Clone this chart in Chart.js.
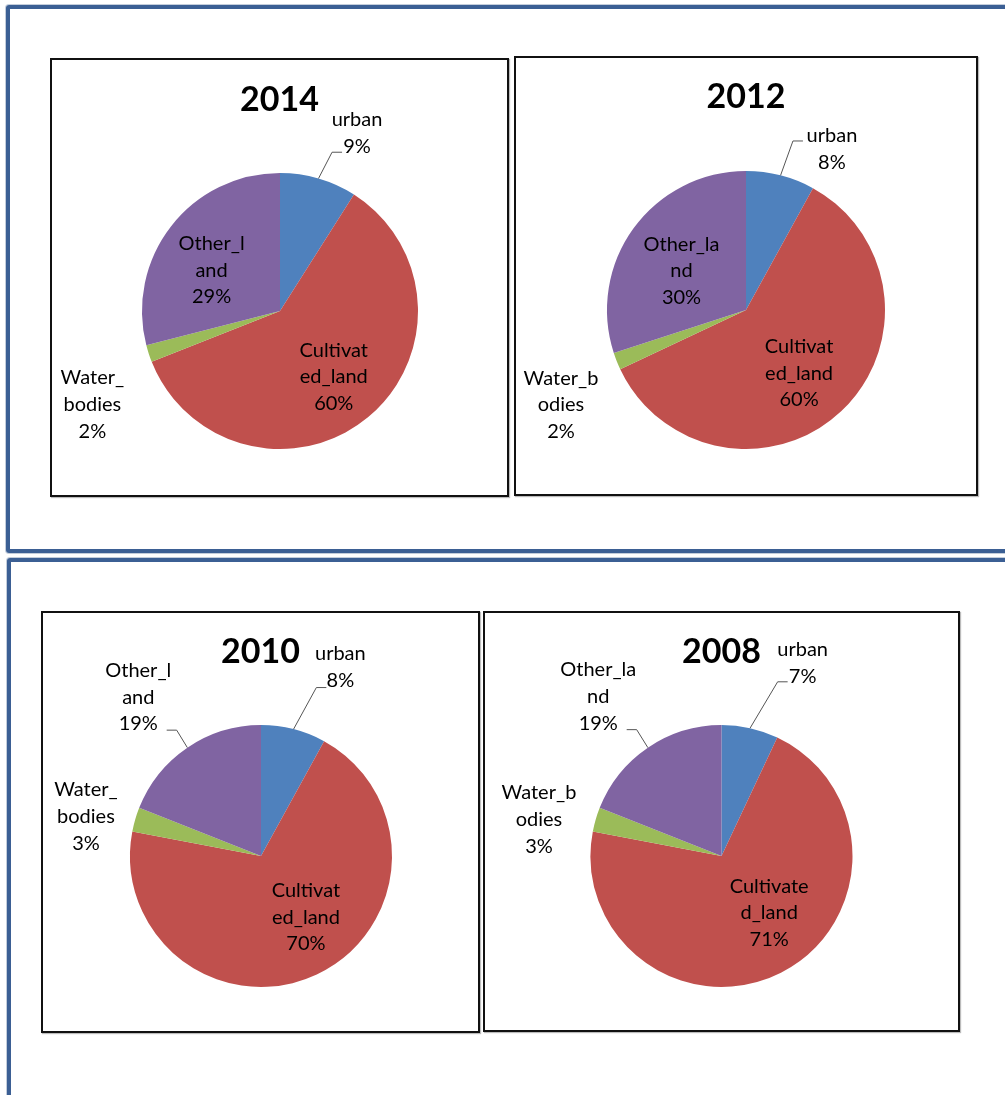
<!DOCTYPE html>
<html>
<head>
<meta charset="utf-8">
<script src="https://cdn.jsdelivr.net/npm/chart.js@4.4.1/dist/chart.umd.min.js"></script>
<style>
  body { margin: 0; width: 1005px; height: 1095px; overflow: hidden; background: #fff; position: relative; }
  .frame { position: absolute; box-sizing: border-box; border: 4px solid #3b5f94; border-radius: 3px;
           box-shadow: 0 0 0 1px #c3cddb; }
  .box { position: absolute; box-sizing: border-box; border: 2px solid #111; background: #fff;
         box-shadow: 1px 1px 1px #bbb; }
  .box canvas { display: block; }
</style>
</head>
<body>
<div class="frame" style="left:6px; top:5px; width:1100px; height:548px;"></div>
<div class="frame" style="left:7px; top:558px; width:1100px; height:600px;"></div>

<div class="box" id="b2014" style="left:50px; top:58px; width:459px; height:439px;"><canvas id="c2014"></canvas></div>
<div class="box" id="b2012" style="left:514px; top:56px; width:464px; height:440px;"><canvas id="c2012"></canvas></div>
<div class="box" id="b2010" style="left:41px; top:611px; width:439px; height:422px;"><canvas id="c2010"></canvas></div>
<div class="box" id="b2008" style="left:483px; top:611px; width:477px; height:421px;"><canvas id="c2008"></canvas></div>

<script>
// land use classes, clockwise from 12 o'clock
const categories = ["urban", "Cultivated_land", "Water_bodies", "Other_land"];
const colors = ["#4F81BD", "#C0504D", "#9BBB59", "#8064A2"];

const values2014 = [9, 60, 2, 29];
const values2012 = [8, 60, 2, 30];
const values2010 = [8, 70, 3, 19];
const values2008 = [7, 71, 3, 19];

// category names wrapped the way the original labels are
const lines2014 = [["urban"], ["Cultivat", "ed_land"], ["Water_", "bodies"], ["Other_l", "and"]];
const lines2012 = [["urban"], ["Cultivat", "ed_land"], ["Water_b", "odies"], ["Other_la", "nd"]];
const lines2010 = [["urban"], ["Cultivat", "ed_land"], ["Water_", "bodies"], ["Other_l", "and"]];
const lines2008 = [["urban"], ["Cultivate", "d_land"], ["Water_b", "odies"], ["Other_la", "nd"]];

const LABEL_FONT = "20px Lato, 'Open Sans', sans-serif";
const TITLE_FONT = "bold 34px Lato, 'Open Sans', sans-serif";
const LINE_H = 26.7;

// label placement: inside labels sit at 0.6r, outside at 1.3r along the slice middle, then nudged
const charts = [
  { id: "2014", values: values2014, lines: lines2014, w: 455, h: 435, cx: 228, cy: 251, r: 138, titleY: 40,
    place: [
      { out: true, dx: 27, dy: -6, leader: [-15, 19.5] },
      { out: false, dx: 1, dy: 2 },
      { out: true, dx: -17, dy: 38 },
      { out: false, dx: -3, dy: 10 },
    ] },
  { id: "2012", values: values2012, lines: lines2012, w: 460, h: 436, cx: 230, cy: 252, r: 139, titleY: 39,
    place: [
      { out: true, dx: 41, dy: 14, leader: [-29, -8] },
      { out: false, dx: -4, dy: 2.5 },
      { out: true, dx: -17, dy: 28.5 },
      { out: false, dx: 3, dy: 10 },
    ] },
  { id: "2010", values: values2010, lines: lines2010, w: 435, h: 418, cx: 218, cy: 243, r: 131, titleY: 39.5,
    place: [
      { out: true, dx: 37, dy: -24, leader: [-14, 20.5] },
      { out: false, dx: 11.5, dy: -10 },
      { out: true, dx: -11.5, dy: 8 },
      { out: true, dx: -27, dy: -18, leader: [28.4, 33] },
    ] },
  { id: "2008", values: values2008, lines: lines2008, w: 473, h: 417, cx: 236.5, cy: 243, r: 131, titleY: 39,
    place: [
      { out: true, dx: 44, dy: -27, leader: [-15, 19] },
      { out: false, dx: 12, dy: -13 },
      { out: true, dx: -19, dy: 11 },
      { out: true, dx: -27.5, dy: -18.5, leader: [28.4, 33] },
    ] },
];

const pieLabels = {
  id: "pieLabels",
  afterDatasetsDraw(chart, args, opts) {
    const ctx = chart.ctx;
    const meta = chart.getDatasetMeta(0);
    const vals = chart.data.datasets[0].data;
    const total = vals.reduce((a, b) => a + b, 0);
    ctx.save();

    // title
    ctx.font = TITLE_FONT;
    ctx.fillStyle = "#000";
    ctx.textAlign = "center";
    ctx.textBaseline = "middle";
    ctx.fillText(opts.title, chart.width / 2, opts.titleY);

    ctx.font = LABEL_FONT;
    meta.data.forEach((arc, i) => {
      const p = arc.getProps(["x", "y", "startAngle", "endAngle", "outerRadius"], true);
      const mid = (p.startAngle + p.endAngle) / 2;
      const pl = opts.place[i];
      const d = p.outerRadius * (pl.out ? 1.3 : 0.6);
      const lx = p.x + Math.cos(mid) * d + pl.dx;
      const ly = p.y + Math.sin(mid) * d + pl.dy;
      const text = opts.lines[i].concat([Math.round(vals[i] / total * 100) + "%"]);

      if (pl.leader) {
        const ex = lx + pl.leader[0], ey = ly + pl.leader[1];
        const bx = ex + (pl.leader[0] < 0 ? -10 : 10);
        ctx.strokeStyle = "#555";
        ctx.lineWidth = 1;
        ctx.beginPath();
        ctx.moveTo(p.x + Math.cos(mid) * p.outerRadius, p.y + Math.sin(mid) * p.outerRadius);
        ctx.lineTo(bx, ey);
        ctx.lineTo(ex, ey);
        ctx.stroke();
      }

      ctx.fillStyle = "#000";
      const top = ly - (text.length - 1) * LINE_H / 2;
      text.forEach((t, k) => ctx.fillText(t, lx, top + k * LINE_H));
    });
    ctx.restore();
  },
};

charts.forEach((c) => {
  const canvas = document.getElementById("c" + c.id);
  canvas.style.width = c.w + "px";
  canvas.style.height = c.h + "px";
  canvas.width = c.w;
  canvas.height = c.h;
  new Chart(canvas, {
    type: "pie",
    data: {
      labels: categories,
      datasets: [{ data: c.values, backgroundColor: colors, borderWidth: 0 }],
    },
    options: {
      responsive: false,
      animation: false,
      layout: {
        padding: {
          left: c.cx - c.r,
          right: c.w - c.cx - c.r,
          top: c.cy - c.r,
          bottom: c.h - c.cy - c.r,
        },
      },
      plugins: {
        legend: { display: false },
        tooltip: { enabled: false },
        pieLabels: { title: c.id, titleY: c.titleY, lines: c.lines, place: c.place },
      },
    },
    plugins: [pieLabels],
  });
});
</script>
</body>
</html>
